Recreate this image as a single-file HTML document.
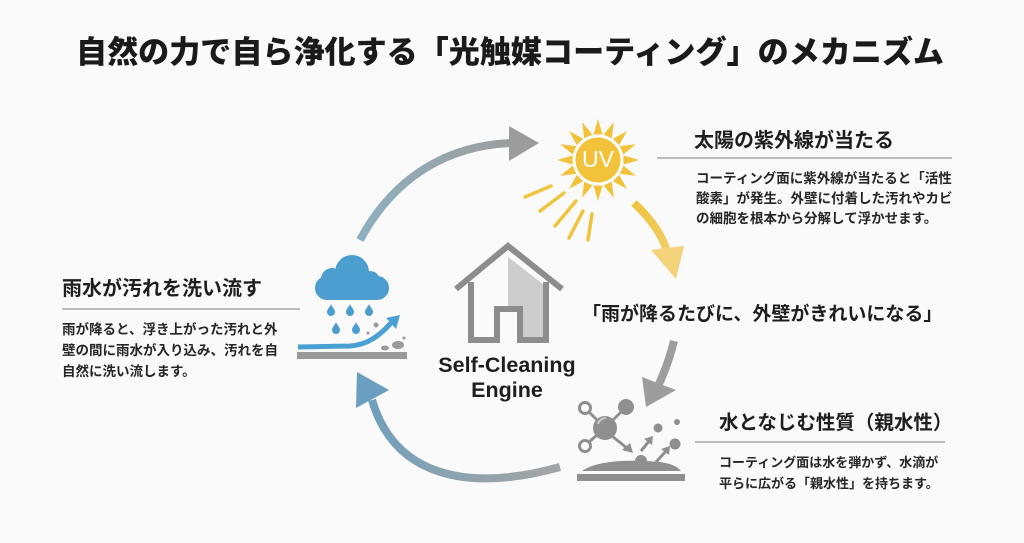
<!DOCTYPE html>
<html lang="ja">
<head>
<meta charset="utf-8">
<style>
  html,body{margin:0;padding:0;background:#fafafa;}
  body{width:1024px;height:543px;overflow:hidden;}
  svg{display:block;}
  .jp{font-family:"Liberation Sans","Noto Sans CJK JP",sans-serif;}
</style>
</head>
<body>
<svg width="1024" height="543" viewBox="0 0 1024 543" xmlns="http://www.w3.org/2000/svg">
  <defs>
    <linearGradient id="gTop" gradientUnits="userSpaceOnUse" x1="360" y1="240" x2="520" y2="143">
      <stop offset="0" stop-color="#8cb0c1"/>
      <stop offset="1" stop-color="#9d9d9d"/>
    </linearGradient>
    <linearGradient id="gYel" gradientUnits="userSpaceOnUse" x1="634" y1="203" x2="675" y2="278">
      <stop offset="0" stop-color="#eec43e"/>
      <stop offset="1" stop-color="#f3d27a"/>
    </linearGradient>
    <linearGradient id="gBot" gradientUnits="userSpaceOnUse" x1="560" y1="467" x2="360" y2="380">
      <stop offset="0" stop-color="#a4a4a4"/>
      <stop offset="1" stop-color="#6a9fbf"/>
    </linearGradient>
  </defs>

  <rect width="1024" height="543" fill="#fafafa"/>

  <!-- Title -->
  <text x="76" y="63" class="jp" font-size="31" font-weight="900" fill="#1a1a1a" textLength="868" lengthAdjust="spacingAndGlyphs">自然の力で自ら浄化する「光触媒コーティング」のメカニズム</text>

  <!-- Top arc arrow -->
  <path d="M360,240 C395,175 450,145 512,143" fill="none" stroke="url(#gTop)" stroke-width="8"/>
  <polygon points="539,143 509,126 509,161" fill="#9c9c9c"/>

  <!-- Sun -->
  <g transform="translate(598,160)" fill="#f2c23a">
    <polygon points="-4.5,-25.5 4.5,-25.5 0,-41"/>
    <polygon points="-4.5,-25.5 4.5,-25.5 0,-41" transform="rotate(22.5)"/>
    <polygon points="-4.5,-25.5 4.5,-25.5 0,-41" transform="rotate(45)"/>
    <polygon points="-4.5,-25.5 4.5,-25.5 0,-41" transform="rotate(67.5)"/>
    <polygon points="-4.5,-25.5 4.5,-25.5 0,-41" transform="rotate(90)"/>
    <polygon points="-4.5,-25.5 4.5,-25.5 0,-41" transform="rotate(112.5)"/>
    <polygon points="-4.5,-25.5 4.5,-25.5 0,-41" transform="rotate(135)"/>
    <polygon points="-4.5,-25.5 4.5,-25.5 0,-41" transform="rotate(157.5)"/>
    <polygon points="-4.5,-25.5 4.5,-25.5 0,-41" transform="rotate(180)"/>
    <polygon points="-4.5,-25.5 4.5,-25.5 0,-41" transform="rotate(202.5)"/>
    <polygon points="-4.5,-25.5 4.5,-25.5 0,-41" transform="rotate(225)"/>
    <polygon points="-4.5,-25.5 4.5,-25.5 0,-41" transform="rotate(247.5)"/>
    <polygon points="-4.5,-25.5 4.5,-25.5 0,-41" transform="rotate(270)"/>
    <polygon points="-4.5,-25.5 4.5,-25.5 0,-41" transform="rotate(292.5)"/>
    <polygon points="-4.5,-25.5 4.5,-25.5 0,-41" transform="rotate(315)"/>
    <polygon points="-4.5,-25.5 4.5,-25.5 0,-41" transform="rotate(337.5)"/>
    <circle r="24.5" fill="#ffffff"/>
    <circle r="22.5" fill="#f2c23a"/>
  </g>
  <text x="598" y="167" text-anchor="middle" font-family="Liberation Sans, sans-serif" font-size="23" fill="#ffffff">UV</text>
  <!-- long rays -->
  <g stroke="#f1c43e" stroke-width="3.5" stroke-linecap="round">
    <line x1="525" y1="197" x2="551" y2="186"/>
    <line x1="540" y1="211" x2="564" y2="193"/>
    <line x1="555" y1="226" x2="576" y2="201"/>
    <line x1="569" y1="238" x2="583" y2="211"/>
    <line x1="588" y1="240" x2="592" y2="214"/>
  </g>

  <!-- Yellow arrow -->
  <path d="M634,203 C650,218 662,235 667,251" fill="none" stroke="url(#gYel)" stroke-width="8"/>
  <polygon points="676,279 651,250 684,246" fill="#f3d27a"/>

  <!-- Top-right text block -->
  <text x="694" y="147" class="jp" font-size="20" font-weight="700" fill="#1e1e1e">太陽の紫外線が当たる</text>
  <line x1="657" y1="158" x2="952" y2="158" stroke="#a6a6a6" stroke-width="1.5"/>
  <g class="jp" font-size="13.5" font-weight="700" fill="#262626">
    <text x="696" y="183">コーティング面に紫外線が当たると「活性</text>
    <text x="696" y="203">酸素」が発生。外壁に付着した汚れやカビ</text>
    <text x="696" y="223">の細胞を根本から分解して浮かせます。</text>
  </g>

  <!-- Center house -->
  <polygon points="508,257 544,285 544,337 523,337 523,306 508,306" fill="#cdcdcd"/>
  <polyline points="456,289 508,246 562,289" fill="none" stroke="#8d8d8d" stroke-width="6" stroke-linejoin="miter"/>
  <path d="M471,282 L471,340 L497,340 L497,309 L520,309 L520,340 L546,340 L546,282" fill="none" stroke="#8d8d8d" stroke-width="6"/>
  <text x="507" y="372" text-anchor="middle" font-family="Liberation Sans, sans-serif" font-size="21.5" font-weight="700" fill="#1e1e1e">Self-Cleaning</text>
  <text x="507" y="397" text-anchor="middle" font-family="Liberation Sans, sans-serif" font-size="21.5" font-weight="700" fill="#1e1e1e">Engine</text>

  <!-- Quote -->
  <text x="582" y="320" class="jp" font-size="19" font-weight="700" fill="#1e1e1e">「雨が降るたびに、外壁がきれいになる」</text>

  <!-- Gray down arrow -->
  <path d="M674,341 C670,357 665,371 659,384" fill="none" stroke="#9d9d9d" stroke-width="8"/>
  <polygon points="646,407 642,377 676,390" fill="#9d9d9d"/>

  <!-- Molecule icon -->
  <g stroke="#8f8f8f" stroke-width="3" fill="none">
    <line x1="605" y1="428" x2="589" y2="412"/>
    <line x1="605" y1="428" x2="589" y2="442"/>
    <line x1="605" y1="428" x2="622" y2="411"/>
    <circle cx="585" cy="408" r="5.5"/>
    <circle cx="585" cy="446" r="5.5"/>
    <line x1="612" y1="436" x2="628" y2="449"/>
    <line x1="641" y1="451" x2="650" y2="440"/>
    <line x1="656" y1="462" x2="667" y2="450"/>
  </g>
  <circle cx="605" cy="428" r="12" fill="#8f8f8f"/>
  <path d="M598,424 A8,8 0 0 1 606,418" stroke="#c9c9c9" stroke-width="2" fill="none"/>
  <circle cx="626" cy="407" r="8" fill="#8f8f8f"/>
  <polygon points="633,453 622,450 630,443" fill="#8f8f8f"/>
  <polygon points="653,436 644,439 652,445" fill="#8f8f8f"/>
  <polygon points="670,446 661,449 669,455" fill="#8f8f8f"/>
  <circle cx="658" cy="428" r="4.5" fill="#8f8f8f"/>
  <circle cx="677" cy="422" r="3" fill="#8f8f8f"/>
  <circle cx="675" cy="444" r="5.5" fill="#8f8f8f"/>
  <path d="M582,471 C595,462 620,460 640,461 C660,461 675,463 681,471 Z" fill="#8f8f8f"/>
  <circle cx="641" cy="461" r="6" fill="#8f8f8f"/>
  <rect x="577" y="474" width="108" height="7" fill="#8f8f8f"/>

  <!-- Bottom-right text block -->
  <text x="719" y="429" class="jp" font-size="19.5" font-weight="700" fill="#1e1e1e">水となじむ性質（親水性）</text>
  <line x1="695" y1="442" x2="945" y2="442" stroke="#a6a6a6" stroke-width="1.5"/>
  <g class="jp" font-size="13" font-weight="700" fill="#262626">
    <text x="719" y="467">コーティング面は水を弾かず、水滴が</text>
    <text x="719" y="488">平らに広がる「親水性」を持ちます。</text>
  </g>

  <!-- Bottom arc arrow -->
  <path d="M560,467 C470,492 395,478 372,400" fill="none" stroke="url(#gBot)" stroke-width="8"/>
  <polygon points="357,372 356,408 389,390" fill="#6a9fbf"/>

  <!-- Rain icon -->
  <g fill="#4b9ecf">
    <circle cx="352" cy="272" r="17"/>
    <circle cx="332" cy="279" r="11"/>
    <circle cx="327" cy="288" r="12"/>
    <circle cx="377" cy="288" r="12"/>
    <circle cx="370" cy="281" r="10"/>
    <rect x="327" y="282" width="50" height="18"/>
  </g>
  <g fill="#4b9ecf">
    <path d="M331,304 C332,307 335,309 335,312 A4,4 0 0 1 327,312 C327,309 330,307 331,304 Z"/>
    <path d="M350,304 C351,307 354,309 354,312 A4,4 0 0 1 346,312 C346,309 349,307 350,304 Z"/>
    <path d="M369,304 C370,307 373,309 373,312 A4,4 0 0 1 365,312 C365,309 368,307 369,304 Z"/>
    <path d="M336,322 C337,325 340,327 340,330 A4,4 0 0 1 332,330 C332,327 335,325 336,322 Z"/>
    <path d="M356,322 C357,325 360,327 360,330 A4,4 0 0 1 352,330 C352,327 355,325 356,322 Z"/>
  </g>
  <path d="M298,347 L350,346 C368,345 380,335 391,323" fill="none" stroke="#4aa0d2" stroke-width="5"/>
  <polygon points="400,315 396,329 386,318" fill="#4aa0d2"/>
  <g fill="#9a9a9a">
    <ellipse cx="398" cy="345" rx="6" ry="4"/>
    <ellipse cx="385" cy="348" rx="4" ry="2.5"/>
    <circle cx="376" cy="325" r="2.5"/>
    <circle cx="368" cy="333" r="1.5"/>
    <circle cx="404" cy="338" r="1.5"/>
  </g>
  <rect x="297" y="352" width="110" height="7" fill="#999999"/>

  <!-- Left text block -->
  <text x="62" y="295" class="jp" font-size="20" font-weight="700" fill="#1e1e1e">雨水が汚れを洗い流す</text>
  <line x1="62" y1="309" x2="300" y2="309" stroke="#a6a6a6" stroke-width="1.5"/>
  <g class="jp" font-size="13.5" font-weight="700" fill="#262626">
    <text x="62" y="334">雨が降ると、浮き上がった汚れと外</text>
    <text x="62" y="355">壁の間に雨水が入り込み、汚れを自</text>
    <text x="62" y="376">自然に洗い流します。</text>
  </g>
</svg>
</body>
</html>
